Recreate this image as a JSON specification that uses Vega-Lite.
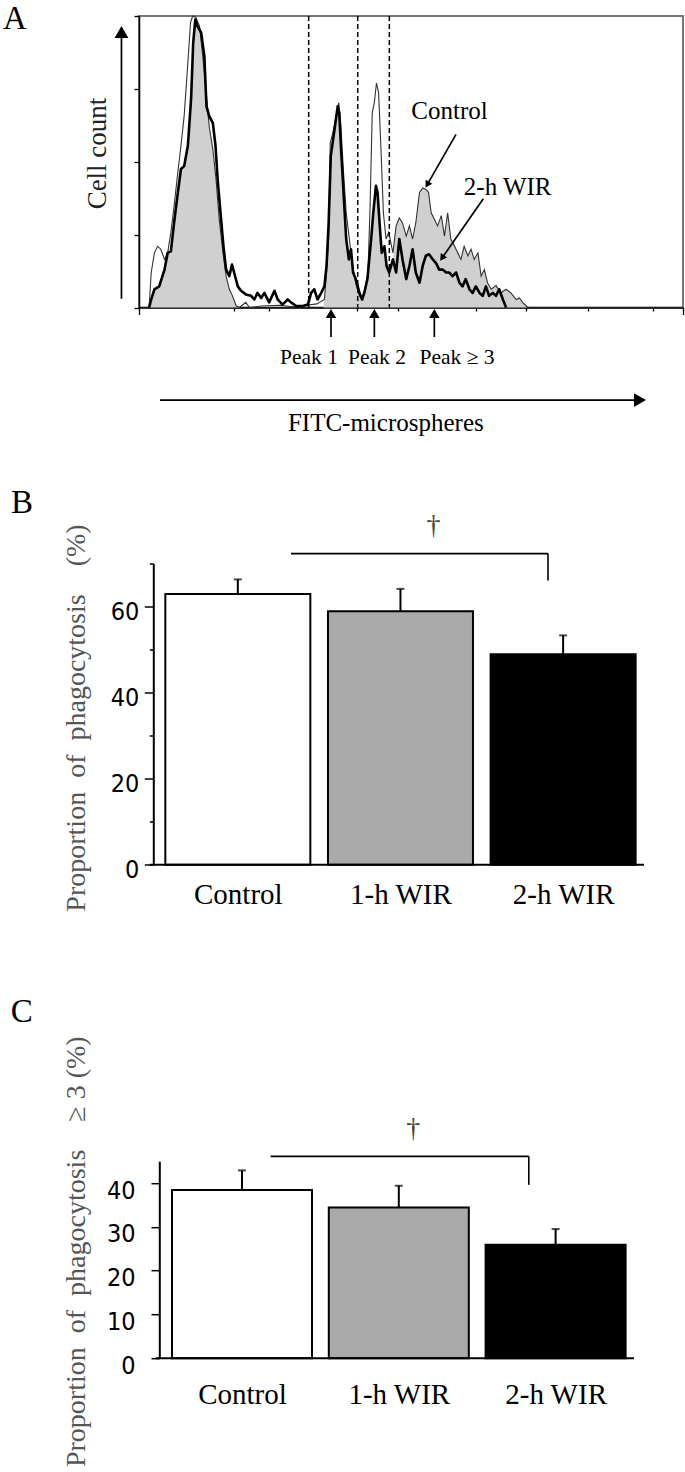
{
"$schema": "https://vega.github.io/schema/vega-lite/v6.json",
"background": "white",
"padding": {"left": 2, "top": 2, "right": 0, "bottom": 0},
"autosize": {"type": "pad"},
"config": {"view": {"stroke": null}, "font": "Liberation Serif", "axis": {"grid": false}},
"datasets": {
"hist": [
{"s":"fill","x":19,"y":0},{"s":"fill","x":23,"y":11},{"s":"fill","x":29,"y":25},{"s":"fill","x":38,"y":29},{"s":"fill","x":48,"y":52},{"s":"fill","x":54,"y":75},{"s":"fill","x":60,"y":77},{"s":"fill","x":66,"y":116},{"s":"fill","x":73,"y":157},{"s":"fill","x":79,"y":189},{"s":"fill","x":85,"y":194},{"s":"fill","x":92,"y":221},{"s":"fill","x":98,"y":286},{"s":"fill","x":102,"y":363},{"s":"fill","x":106,"y":395},{"s":"fill","x":110,"y":386},{"s":"fill","x":117,"y":377},{"s":"fill","x":120,"y":345},{"s":"fill","x":126,"y":299},{"s":"fill","x":132,"y":249},{"s":"fill","x":139,"y":217},{"s":"fill","x":145,"y":176},{"s":"fill","x":151,"y":121},{"s":"fill","x":158,"y":75},{"s":"fill","x":164,"y":43},{"s":"fill","x":170,"y":25},{"s":"fill","x":176,"y":16},{"s":"fill","x":183,"y":2},{"s":"fill","x":189,"y":0},{"s":"fill","x":347,"y":0},{"s":"fill","x":349,"y":11},{"s":"fill","x":353,"y":48},{"s":"fill","x":357,"y":94},{"s":"fill","x":360,"y":200},{"s":"fill","x":365,"y":235},{"s":"fill","x":371,"y":262},{"s":"fill","x":376,"y":272},{"s":"fill","x":380,"y":222},{"s":"fill","x":385,"y":158},{"s":"fill","x":390,"y":94},{"s":"fill","x":396,"y":70},{"s":"fill","x":402,"y":57},{"s":"fill","x":409,"y":30},{"s":"fill","x":415,"y":16},{"s":"fill","x":420,"y":11},{"s":"fill","x":424,"y":20},{"s":"fill","x":431,"y":39},{"s":"fill","x":435,"y":77},{"s":"fill","x":439,"y":110},{"s":"fill","x":441,"y":130},{"s":"fill","x":446,"y":167},{"s":"fill","x":449,"y":158},{"s":"fill","x":454,"y":103},{"s":"fill","x":457,"y":75},{"s":"fill","x":462,"y":84},{"s":"fill","x":466,"y":57},{"s":"fill","x":471,"y":48},{"s":"fill","x":478,"y":66},{"s":"fill","x":484,"y":112},{"s":"fill","x":490,"y":123},{"s":"fill","x":496,"y":116},{"s":"fill","x":503,"y":98},{"s":"fill","x":509,"y":112},{"s":"fill","x":515,"y":94},{"s":"fill","x":521,"y":116},{"s":"fill","x":528,"y":158},{"s":"fill","x":534,"y":164},{"s":"fill","x":540,"y":162},{"s":"fill","x":545,"y":158},{"s":"fill","x":550,"y":130},{"s":"fill","x":556,"y":121},{"s":"fill","x":562,"y":112},{"s":"fill","x":569,"y":126},{"s":"fill","x":575,"y":98},{"s":"fill","x":581,"y":130},{"s":"fill","x":587,"y":94},{"s":"fill","x":594,"y":84},{"s":"fill","x":600,"y":75},{"s":"fill","x":606,"y":66},{"s":"fill","x":612,"y":84},{"s":"fill","x":619,"y":71},{"s":"fill","x":625,"y":80},{"s":"fill","x":631,"y":66},{"s":"fill","x":638,"y":75},{"s":"fill","x":644,"y":43},{"s":"fill","x":650,"y":52},{"s":"fill","x":656,"y":34},{"s":"fill","x":663,"y":25},{"s":"fill","x":672,"y":30},{"s":"fill","x":681,"y":20},{"s":"fill","x":691,"y":25},{"s":"fill","x":700,"y":20},{"s":"fill","x":710,"y":11},{"s":"fill","x":716,"y":13},{"s":"fill","x":722,"y":7},{"s":"fill","x":732,"y":0},
{"s":"Control","x":19,"y":0},{"s":"Control","x":23,"y":48},{"s":"Control","x":29,"y":75},{"s":"Control","x":35,"y":84},{"s":"Control","x":41,"y":80},{"s":"Control","x":48,"y":66},{"s":"Control","x":54,"y":75},{"s":"Control","x":60,"y":103},{"s":"Control","x":66,"y":139},{"s":"Control","x":73,"y":185},{"s":"Control","x":79,"y":222},{"s":"Control","x":85,"y":263},{"s":"Control","x":92,"y":336},{"s":"Control","x":97,"y":391},{"s":"Control","x":101,"y":400},{"s":"Control","x":107,"y":398},{"s":"Control","x":114,"y":386},{"s":"Control","x":120,"y":345},{"s":"Control","x":126,"y":299},{"s":"Control","x":132,"y":249},{"s":"Control","x":139,"y":217},{"s":"Control","x":145,"y":176},{"s":"Control","x":151,"y":121},{"s":"Control","x":158,"y":75},{"s":"Control","x":164,"y":43},{"s":"Control","x":170,"y":25},{"s":"Control","x":176,"y":16},{"s":"Control","x":183,"y":2},{"s":"Control","x":189,"y":0},{"s":"Control","x":201,"y":7},{"s":"Control","x":208,"y":0},{"s":"Control","x":230,"y":2},{"s":"Control","x":265,"y":3},{"s":"Control","x":290,"y":1},{"s":"Control","x":315,"y":3},{"s":"Control","x":335,"y":5},{"s":"Control","x":349,"y":11},{"s":"Control","x":353,"y":48},{"s":"Control","x":357,"y":94},{"s":"Control","x":360,"y":226},{"s":"Control","x":365,"y":240},{"s":"Control","x":371,"y":263},{"s":"Control","x":376,"y":281},{"s":"Control","x":380,"y":249},{"s":"Control","x":385,"y":185},{"s":"Control","x":390,"y":130},{"s":"Control","x":396,"y":94},{"s":"Control","x":402,"y":57},{"s":"Control","x":409,"y":30},{"s":"Control","x":415,"y":16},{"s":"Control","x":420,"y":11},{"s":"Control","x":424,"y":20},{"s":"Control","x":431,"y":48},{"s":"Control","x":435,"y":139},{"s":"Control","x":439,"y":267},{"s":"Control","x":443,"y":281},{"s":"Control","x":447,"y":308},{"s":"Control","x":451,"y":295},{"s":"Control","x":456,"y":208},{"s":"Control","x":460,"y":130},{"s":"Control","x":465,"y":94},{"s":"Control","x":470,"y":103},{"s":"Control","x":478,"y":75},{"s":"Control","x":484,"y":112},{"s":"Control","x":490,"y":123},{"s":"Control","x":496,"y":116},{"s":"Control","x":503,"y":98},{"s":"Control","x":509,"y":112},{"s":"Control","x":515,"y":94},{"s":"Control","x":521,"y":116},{"s":"Control","x":528,"y":158},{"s":"Control","x":534,"y":164},{"s":"Control","x":540,"y":162},{"s":"Control","x":545,"y":158},{"s":"Control","x":550,"y":130},{"s":"Control","x":556,"y":121},{"s":"Control","x":562,"y":112},{"s":"Control","x":569,"y":126},{"s":"Control","x":575,"y":98},{"s":"Control","x":581,"y":130},{"s":"Control","x":587,"y":94},{"s":"Control","x":594,"y":84},{"s":"Control","x":600,"y":75},{"s":"Control","x":606,"y":66},{"s":"Control","x":612,"y":84},{"s":"Control","x":619,"y":71},{"s":"Control","x":625,"y":80},{"s":"Control","x":631,"y":66},{"s":"Control","x":638,"y":75},{"s":"Control","x":644,"y":43},{"s":"Control","x":650,"y":52},{"s":"Control","x":656,"y":34},{"s":"Control","x":663,"y":25},{"s":"Control","x":672,"y":30},{"s":"Control","x":681,"y":20},{"s":"Control","x":691,"y":25},{"s":"Control","x":700,"y":20},{"s":"Control","x":710,"y":11},{"s":"Control","x":716,"y":13},{"s":"Control","x":722,"y":7},{"s":"Control","x":732,"y":0},
{"s":"2-h WIR","x":19,"y":0},{"s":"2-h WIR","x":23,"y":11},{"s":"2-h WIR","x":29,"y":25},{"s":"2-h WIR","x":38,"y":29},{"s":"2-h WIR","x":48,"y":52},{"s":"2-h WIR","x":54,"y":75},{"s":"2-h WIR","x":60,"y":77},{"s":"2-h WIR","x":66,"y":116},{"s":"2-h WIR","x":73,"y":157},{"s":"2-h WIR","x":79,"y":190},{"s":"2-h WIR","x":85,"y":194},{"s":"2-h WIR","x":92,"y":222},{"s":"2-h WIR","x":98,"y":286},{"s":"2-h WIR","x":102,"y":363},{"s":"2-h WIR","x":106,"y":395},{"s":"2-h WIR","x":110,"y":386},{"s":"2-h WIR","x":117,"y":377},{"s":"2-h WIR","x":123,"y":345},{"s":"2-h WIR","x":127,"y":276},{"s":"2-h WIR","x":132,"y":263},{"s":"2-h WIR","x":139,"y":253},{"s":"2-h WIR","x":144,"y":222},{"s":"2-h WIR","x":148,"y":176},{"s":"2-h WIR","x":154,"y":125},{"s":"2-h WIR","x":159,"y":84},{"s":"2-h WIR","x":164,"y":52},{"s":"2-h WIR","x":170,"y":43},{"s":"2-h WIR","x":175,"y":59},{"s":"2-h WIR","x":179,"y":48},{"s":"2-h WIR","x":186,"y":29},{"s":"2-h WIR","x":192,"y":23},{"s":"2-h WIR","x":201,"y":18},{"s":"2-h WIR","x":211,"y":16},{"s":"2-h WIR","x":217,"y":11},{"s":"2-h WIR","x":223,"y":20},{"s":"2-h WIR","x":230,"y":13},{"s":"2-h WIR","x":236,"y":20},{"s":"2-h WIR","x":245,"y":7},{"s":"2-h WIR","x":255,"y":23},{"s":"2-h WIR","x":261,"y":11},{"s":"2-h WIR","x":270,"y":4},{"s":"2-h WIR","x":280,"y":11},{"s":"2-h WIR","x":286,"y":7},{"s":"2-h WIR","x":296,"y":2},{"s":"2-h WIR","x":308,"y":2},{"s":"2-h WIR","x":318,"y":4},{"s":"2-h WIR","x":324,"y":20},{"s":"2-h WIR","x":330,"y":25},{"s":"2-h WIR","x":336,"y":11},{"s":"2-h WIR","x":343,"y":20},{"s":"2-h WIR","x":349,"y":29},{"s":"2-h WIR","x":353,"y":57},{"s":"2-h WIR","x":357,"y":116},{"s":"2-h WIR","x":361,"y":208},{"s":"2-h WIR","x":368,"y":244},{"s":"2-h WIR","x":374,"y":276},{"s":"2-h WIR","x":377,"y":267},{"s":"2-h WIR","x":380,"y":222},{"s":"2-h WIR","x":385,"y":158},{"s":"2-h WIR","x":390,"y":94},{"s":"2-h WIR","x":395,"y":66},{"s":"2-h WIR","x":399,"y":80},{"s":"2-h WIR","x":403,"y":48},{"s":"2-h WIR","x":408,"y":39},{"s":"2-h WIR","x":415,"y":20},{"s":"2-h WIR","x":420,"y":11},{"s":"2-h WIR","x":424,"y":20},{"s":"2-h WIR","x":430,"y":39},{"s":"2-h WIR","x":437,"y":94},{"s":"2-h WIR","x":441,"y":130},{"s":"2-h WIR","x":446,"y":167},{"s":"2-h WIR","x":449,"y":158},{"s":"2-h WIR","x":454,"y":103},{"s":"2-h WIR","x":457,"y":75},{"s":"2-h WIR","x":462,"y":84},{"s":"2-h WIR","x":466,"y":57},{"s":"2-h WIR","x":471,"y":48},{"s":"2-h WIR","x":478,"y":66},{"s":"2-h WIR","x":484,"y":48},{"s":"2-h WIR","x":490,"y":94},{"s":"2-h WIR","x":496,"y":66},{"s":"2-h WIR","x":503,"y":39},{"s":"2-h WIR","x":509,"y":57},{"s":"2-h WIR","x":515,"y":80},{"s":"2-h WIR","x":521,"y":48},{"s":"2-h WIR","x":528,"y":34},{"s":"2-h WIR","x":534,"y":57},{"s":"2-h WIR","x":540,"y":71},{"s":"2-h WIR","x":546,"y":73},{"s":"2-h WIR","x":553,"y":66},{"s":"2-h WIR","x":559,"y":61},{"s":"2-h WIR","x":565,"y":52},{"s":"2-h WIR","x":572,"y":52},{"s":"2-h WIR","x":578,"y":48},{"s":"2-h WIR","x":584,"y":48},{"s":"2-h WIR","x":590,"y":43},{"s":"2-h WIR","x":597,"y":48},{"s":"2-h WIR","x":603,"y":34},{"s":"2-h WIR","x":609,"y":29},{"s":"2-h WIR","x":615,"y":39},{"s":"2-h WIR","x":622,"y":25},{"s":"2-h WIR","x":628,"y":20},{"s":"2-h WIR","x":634,"y":29},{"s":"2-h WIR","x":641,"y":20},{"s":"2-h WIR","x":647,"y":16},{"s":"2-h WIR","x":653,"y":29},{"s":"2-h WIR","x":659,"y":16},{"s":"2-h WIR","x":666,"y":20},{"s":"2-h WIR","x":672,"y":16},{"s":"2-h WIR","x":678,"y":25},{"s":"2-h WIR","x":685,"y":11},{"s":"2-h WIR","x":691,"y":0}
],
"gates": [{"x": 319.4}, {"x": 411.7}, {"x": 471.2}],
"arrows": [
{"kind":"big","x1":-33,"y1":12,"x2":-33,"y2":378,"ang":0},
{"kind":"big","x1":39.5,"y1":-127,"x2":943,"y2":-127,"ang":90},
{"kind":"peak","x1":361.4,"y1":-40.5,"x2":361.4,"y2":-8.2,"ang":0},
{"kind":"peak","x1":443,"y1":-40.5,"x2":443,"y2":-8.2,"ang":0},
{"kind":"peak","x1":555.9,"y1":-40.5,"x2":555.9,"y2":-8.2,"ang":0},
{"kind":"small","x1":596.7,"y1":237.6,"x2":542.6,"y2":168.6,"ang":210.7},
{"kind":"small","x1":648.1,"y1":149.3,"x2":570.5,"y2":67.9,"ang":214.9}
],
"labelsA": [
{"kind":"curve","x":584.5,"y":269.6,"t":"Control"},
{"kind":"curve","x":694,"y":165.3,"t":"2-h WIR"},
{"kind":"peak","x":320,"y":-69.3,"t":"Peak 1"},
{"kind":"peak","x":448,"y":-69.3,"t":"Peak 2"},
{"kind":"peak","x":598.6,"y":-69.3,"t":"Peak ≥ 3"},
{"kind":"axis","x":464.6,"y":-158.5,"t":"FITC-microspheres"},
{"kind":"cell","x":-77.2,"y":211.3,"t":"Cell count"},
{"kind":"panel","x":-256,"y":382,"t":"A"}
],
"phagoAll": [
{"g":"Control","m":62.9,"u":66.3},
{"g":"1-h WIR","m":58.9,"u":64.1},
{"g":"2-h WIR","m":48.9,"u":53.3}
],
"phago3": [
{"g":"Control","m":38.4,"u":42.9},
{"g":"1-h WIR","m":34.4,"u":39.4},
{"g":"2-h WIR","m":25.9,"u":29.5}
]
},
"spacing": 255.5,
"bounds": "flush",
"vconcat": [
{
"width": 544, "height": 291.5,
"view": {"stroke": "#777", "strokeWidth": 2},
"layer": [
{"data": {"name": "hist"}, "transform": [{"filter": "datum.s === 'fill'"}],
 "mark": {"type": "area", "color": "#d0d0d0", "clip": false},
 "encoding": {
  "x": {"field": "x", "type": "quantitative", "title": null, "scale": {"domain": [0, 1024], "nice": false, "zero": false},
   "axis": {"title": null, "labels": false, "values": [0,77.06,122.14,154.13,178.94,199.21,216.35,231.19,244.28,256,333.06,378.14,410.13,434.94,455.21,472.35,487.19,500.28,512,589.06,634.14,666.13,690.94,711.21,728.35,743.19,756.28,768,845.06,890.14,922.13,946.94,967.21,984.35,999.19,1012.28,1024],
    "tickSize": {"condition": {"test": "datum.value % 256 === 0", "value": 7}, "value": 3.5},
    "tickColor": "black", "tickWidth": 1.3, "domainColor": "black", "domainWidth": 1.5}},
  "y": {"field": "y", "type": "quantitative", "title": null, "scale": {"domain": [0, 400], "nice": false},
   "axis": {"title": null, "labels": false, "values": [0,50,100,150,200,250,300,350,400], "tickSize": 5, "tickColor": "black", "tickWidth": 1.3, "domainColor": "black", "domainWidth": 1.5}}
 }},
{"data": {"name": "hist"}, "transform": [{"filter": "datum.s === 'Control'"}],
 "mark": {"type": "line", "color": "#333333", "strokeWidth": 1.1, "clip": false},
 "encoding": {"x": {"field": "x", "type": "quantitative", "title": null}, "y": {"field": "y", "type": "quantitative", "title": null}}},
{"data": {"name": "hist"}, "transform": [{"filter": "datum.s === '2-h WIR'"}],
 "mark": {"type": "line", "color": "black", "strokeWidth": 2.6, "strokeJoin": "round", "clip": false},
 "encoding": {"x": {"field": "x", "type": "quantitative", "title": null}, "y": {"field": "y", "type": "quantitative", "title": null}}},
{"data": {"name": "gates"},
 "mark": {"type": "rule", "color": "black", "strokeWidth": 1.5, "strokeDash": [5, 3]},
 "encoding": {"x": {"field": "x", "type": "quantitative", "title": null}}},
{"data": {"name": "arrows"},
 "mark": {"type": "rule", "color": "black", "strokeWidth": 1.7, "clip": false},
 "encoding": {"x": {"field": "x1", "type": "quantitative", "title": null}, "y": {"field": "y1", "type": "quantitative", "title": null}, "x2": {"field": "x2"}, "y2": {"field": "y2"}}},
{"data": {"name": "arrows"}, "transform": [{"filter": "datum.kind === 'big'"}],
 "mark": {"type": "point", "shape": "triangle-up", "filled": true, "color": "black", "opacity": 1, "size": 190, "clip": false},
 "encoding": {"x": {"field": "x2", "type": "quantitative", "title": null}, "y": {"field": "y2", "type": "quantitative", "title": null}, "angle": {"field": "ang", "type": "quantitative", "scale": null}}},
{"data": {"name": "arrows"}, "transform": [{"filter": "datum.kind === 'peak'"}],
 "mark": {"type": "point", "shape": "triangle-up", "filled": true, "color": "black", "opacity": 1, "size": 110, "clip": false},
 "encoding": {"x": {"field": "x2", "type": "quantitative", "title": null}, "y": {"field": "y2", "type": "quantitative", "title": null}, "angle": {"field": "ang", "type": "quantitative", "scale": null}}},
{"data": {"name": "arrows"}, "transform": [{"filter": "datum.kind === 'small'"}],
 "mark": {"type": "point", "shape": "triangle-up", "filled": true, "color": "black", "opacity": 1, "size": 60, "clip": false},
 "encoding": {"x": {"field": "x2", "type": "quantitative", "title": null}, "y": {"field": "y2", "type": "quantitative", "title": null}, "angle": {"field": "ang", "type": "quantitative", "scale": null}}},
{"data": {"name": "labelsA"}, "transform": [{"filter": "datum.kind === 'curve'"}],
 "mark": {"type": "text", "font": "Liberation Serif", "fontSize": 25, "color": "black", "align": "center", "baseline": "middle", "clip": false},
 "encoding": {"x": {"field": "x", "type": "quantitative", "title": null}, "y": {"field": "y", "type": "quantitative", "title": null}, "text": {"field": "t"}}},
{"data": {"name": "labelsA"}, "transform": [{"filter": "datum.kind === 'peak'"}],
 "mark": {"type": "text", "font": "Liberation Serif", "fontSize": 21.5, "color": "black", "align": "center", "baseline": "middle", "clip": false},
 "encoding": {"x": {"field": "x", "type": "quantitative", "title": null}, "y": {"field": "y", "type": "quantitative", "title": null}, "text": {"field": "t"}}},
{"data": {"name": "labelsA"}, "transform": [{"filter": "datum.kind === 'axis'"}],
 "mark": {"type": "text", "font": "Liberation Serif", "fontSize": 25, "color": "black", "align": "center", "baseline": "middle", "clip": false},
 "encoding": {"x": {"field": "x", "type": "quantitative", "title": null}, "y": {"field": "y", "type": "quantitative", "title": null}, "text": {"field": "t"}}},
{"data": {"name": "labelsA"}, "transform": [{"filter": "datum.kind === 'cell'"}],
 "mark": {"type": "text", "font": "Liberation Serif", "fontSize": 27, "color": "#222", "align": "center", "baseline": "middle", "angle": 270, "clip": false},
 "encoding": {"x": {"field": "x", "type": "quantitative", "title": null}, "y": {"field": "y", "type": "quantitative", "title": null}, "text": {"field": "t"}}},
{"data": {"name": "labelsA"}, "transform": [{"filter": "datum.kind === 'panel'"}],
 "mark": {"type": "text", "font": "Liberation Serif", "fontSize": 33, "color": "black", "align": "left", "baseline": "alphabetic", "clip": false},
 "encoding": {"x": {"field": "x", "type": "quantitative", "title": null}, "y": {"field": "y", "type": "quantitative", "title": null}, "text": {"field": "t"}}}
]
},
{
"spacing": 295.7,
"bounds": "flush",
"vconcat": [
{
"width": 510, "height": 301.3,
"layer": [
{"data": {"name": "phagoAll"}, "transform": [{"window": [{"op": "row_number", "as": "k"}]}],
 "mark": {"type": "bar", "width": 145, "stroke": "black", "strokeWidth": 2},
 "encoding": {
  "x": {"field": "k", "type": "quantitative", "scale": {"domain": [0.4231, 3.4973], "nice": false, "zero": false},
   "axis": {"title": null, "values": [1, 2, 3], "labelExpr": "['', 'Control', '1-h WIR', '2-h WIR'][datum.value]", "ticks": false, "tickSize": 0, "domain": false, "labelPadding": 16, "labelFont": "Liberation Serif", "labelFontSize": 29, "labelColor": "black", "labelBaseline": "top"}},
  "y": {"field": "m", "type": "quantitative", "scale": {"domain": [0, 70], "nice": false},
   "axis": {"title": "Proportion\u2002of\u2002phagocytosis\u2003(%)", "titleFont": "Liberation Serif", "titleFontSize": 28, "titleFontWeight": "normal", "titleColor": "#555555", "titleX": -77, "titleY": 154, "titleBaseline": "middle", "titleAngle": 270,
    "values": [0,5,10,15,20,25,30,35,40,45,50,55,60,65,70], "labelExpr": "datum.value % 20 === 0 ? datum.label : ''",
    "tickSize": {"condition": {"test": "datum.value % 20 === 0", "value": 9}, "value": 4}, "tickColor": "black", "tickWidth": 1.5,
    "domainColor": "black", "domainWidth": 2, "offset": -14.3,
    "labelFont": "Liberation Sans Narrow, DejaVu Sans Condensed, Arial Narrow, sans-serif", "labelFontSize": 25, "labelColor": "black", "labelPadding": 5.5, "labelOffset": 5}},
  "fill": {"field": "g", "type": "nominal", "scale": {"domain": ["Control", "1-h WIR", "2-h WIR"], "range": ["white", "#aaaaaa", "black"]}, "legend": null}
 }},
{"data": {"name": "phagoAll"}, "transform": [{"window": [{"op": "row_number", "as": "k"}]}],
 "mark": {"type": "rule", "color": "black", "strokeWidth": 2},
 "encoding": {"x": {"field": "k", "type": "quantitative"}, "y": {"field": "m", "type": "quantitative"}, "y2": {"field": "u"}}},
{"data": {"name": "phagoAll"}, "transform": [{"window": [{"op": "row_number", "as": "k"}]}],
 "mark": {"type": "tick", "orient": "horizontal", "color": "black", "size": 8, "thickness": 2},
 "encoding": {"x": {"field": "k", "type": "quantitative"}, "y": {"field": "u", "type": "quantitative"}}},
{"data": {"values": [{}]},
 "mark": {"type": "rule", "color": "black", "strokeWidth": 2},
 "encoding": {"x": {"datum": 0.4593}, "x2": {"datum": 3.4973}, "y": {"datum": 0}}},
{"data": {"values": [{}]},
 "mark": {"type": "rule", "color": "black", "strokeWidth": 1.6, "clip": false},
 "encoding": {"x": {"datum": 1.327}, "x2": {"datum": 2.907}, "y": {"datum": 72.3}}},
{"data": {"values": [{}]},
 "mark": {"type": "rule", "color": "black", "strokeWidth": 1.6, "clip": false},
 "encoding": {"x": {"datum": 2.907}, "y": {"datum": 72.3}, "y2": {"datum": 66.05}}},
{"data": {"values": [{}]},
 "mark": {"type": "text", "text": "†", "font": "Liberation Serif", "fontSize": 28, "color": "#444", "align": "center", "baseline": "middle", "clip": false},
 "encoding": {"x": {"datum": 2.203}, "y": {"datum": 78.8}}},
{"data": {"values": [{}]},
 "mark": {"type": "text", "text": "B", "font": "Liberation Serif", "fontSize": 33, "color": "black", "align": "left", "baseline": "alphabetic", "clip": false},
 "encoding": {"x": {"datum": -0.395}, "y": {"datum": 81.7}}}
]
},
{
"width": 500, "height": 197,
"layer": [
{"data": {"name": "phago3"}, "transform": [{"window": [{"op": "row_number", "as": "k"}]}],
 "mark": {"type": "bar", "width": 140, "stroke": "black", "strokeWidth": 2},
 "encoding": {
  "x": {"field": "k", "type": "quantitative", "scale": {"domain": [0.375, 3.5], "nice": false, "zero": false},
   "axis": {"title": null, "values": [1, 2, 3], "labelExpr": "['', 'Control', '1-h WIR', '2-h WIR'][datum.value]", "ticks": false, "tickSize": 0, "domain": false, "labelPadding": 22, "labelFont": "Liberation Serif", "labelFontSize": 29, "labelColor": "black", "labelBaseline": "top"}},
  "y": {"field": "m", "type": "quantitative", "scale": {"domain": [0, 45], "nice": false},
   "axis": {"title": "Proportion\u2002of\u2002phagocytosis\u2003≥ 3 (%)", "titleFont": "Liberation Serif", "titleFontSize": 28, "titleFontWeight": "normal", "titleColor": "#555555", "titleX": -83, "titleY": 90, "titleBaseline": "middle", "titleAngle": 270,
    "values": [0,2.5,5,7.5,10,12.5,15,17.5,20,22.5,25,27.5,30,32.5,35,37.5,40,42.5,45], "labelExpr": "datum.value % 10 === 0 ? datum.label : ''",
    "tickSize": {"condition": {"test": "datum.value % 10 === 0", "value": 8.3}, "value": 5}, "tickColor": "black", "tickWidth": 1.5,
    "domainColor": "black", "domainWidth": 2, "offset": -20.3,
    "labelFont": "Liberation Sans Narrow, DejaVu Sans Condensed, Arial Narrow, sans-serif", "labelFontSize": 25, "labelColor": "black", "labelPadding": 16, "labelOffset": 7}},
  "fill": {"field": "g", "type": "nominal", "scale": {"domain": ["Control", "1-h WIR", "2-h WIR"], "range": ["white", "#aaaaaa", "black"]}, "legend": null}
 }},
{"data": {"name": "phago3"}, "transform": [{"window": [{"op": "row_number", "as": "k"}]}],
 "mark": {"type": "rule", "color": "black", "strokeWidth": 2},
 "encoding": {"x": {"field": "k", "type": "quantitative"}, "y": {"field": "m", "type": "quantitative"}, "y2": {"field": "u"}}},
{"data": {"name": "phago3"}, "transform": [{"window": [{"op": "row_number", "as": "k"}]}],
 "mark": {"type": "tick", "orient": "horizontal", "color": "black", "size": 8, "thickness": 2},
 "encoding": {"x": {"field": "k", "type": "quantitative"}, "y": {"field": "u", "type": "quantitative"}}},
{"data": {"values": [{}]},
 "mark": {"type": "rule", "color": "black", "strokeWidth": 2},
 "encoding": {"x": {"datum": 0.45}, "x2": {"datum": 3.5}, "y": {"datum": 0}}},
{"data": {"values": [{}]},
 "mark": {"type": "rule", "color": "black", "strokeWidth": 1.6, "clip": false},
 "encoding": {"x": {"datum": 1.1825}, "x2": {"datum": 2.829}, "y": {"datum": 46.1}}},
{"data": {"values": [{}]},
 "mark": {"type": "rule", "color": "black", "strokeWidth": 1.6, "clip": false},
 "encoding": {"x": {"datum": 2.829}, "y": {"datum": 46.1}, "y2": {"datum": 39.6}}},
{"data": {"values": [{}]},
 "mark": {"type": "text", "text": "†", "font": "Liberation Serif", "fontSize": 28, "color": "#444", "align": "center", "baseline": "middle", "clip": false},
 "encoding": {"x": {"datum": 2.092}, "y": {"datum": 52.4}}},
{"data": {"values": [{}]},
 "mark": {"type": "text", "text": "C", "font": "Liberation Serif", "fontSize": 33, "color": "black", "align": "left", "baseline": "alphabetic", "clip": false},
 "encoding": {"x": {"datum": -0.475}, "y": {"datum": 76.7}}}
]
}
]
}
]
}
